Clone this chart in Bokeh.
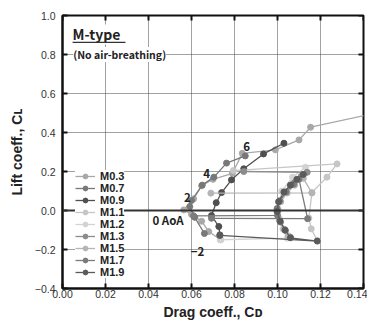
import math
from bokeh.plotting import figure
from bokeh.models import (Range1d, FixedTicker, Legend, LegendItem, Label,
                          Span, BoxAnnotation, CustomJSTickFormatter)
from bokeh.embed import file_html
from bokeh.resources import INLINE

# ---------------- data ----------------
series_names = ["M0.3", "M0.7", "M0.9", "M1.1", "M1.2", "M1.3", "M1.5", "M1.7", "M1.9"]
series_colors = ["#a8a8a8", "#787878", "#4f4f4f", "#c6c6c6", "#d3d3d3", "#8c8c8c",
                 "#b5b5b5", "#7b7b7b", "#5a5a5a"]

cd_m03 = [0.0735, 0.0680, 0.0647, 0.0600, 0.0564, 0.0610, 0.0647, 0.0700, 0.0790, 0.0836, 0.0990, 0.1100, 0.1154, 0.1480]
cl_m03 = [-0.150, -0.108, -0.055, -0.020, 0.003, 0.060, 0.127, 0.160, 0.190, 0.293, 0.311, 0.362, 0.427, 0.505]

cd_m07 = [0.0660, 0.0615, 0.0592, 0.0600, 0.0650, 0.0704, 0.0763, 0.0850]
cl_m07 = [-0.118, -0.035, 0.020, 0.051, 0.130, 0.171, 0.243, 0.280]

cd_m09 = [0.0732, 0.0727, 0.0693, 0.0715, 0.0740, 0.0786, 0.0843, 0.0935, 0.1030]
cl_m09 = [-0.125, -0.082, -0.026, 0.040, 0.092, 0.157, 0.214, 0.290, 0.345]

cd_m11 = [0.0795, 0.1277, 0.1230, 0.1160, 0.1146, 0.1157, 0.1185]
cl_m11 = [0.205, 0.239, 0.171, 0.092, -0.039, -0.094, -0.154]

cd_m12 = [0.0735, 0.1045, 0.1025, 0.1008, 0.1003, 0.1020, 0.1070, 0.1130]
cl_m12 = [-0.150, -0.142, -0.095, -0.040, 0.010, 0.100, 0.171, 0.222]

cd_m13 = [0.1060, 0.1037, 0.1014, 0.1000, 0.1012, 0.1040, 0.1075, 0.1110, 0.1138, 0.0843]
cl_m13 = [-0.137, -0.103, -0.060, -0.005, 0.045, 0.095, 0.140, 0.175, 0.196, 0.200]

cd_m15 = [0.0690, 0.1160, 0.1120, 0.1080, 0.1045, 0.1015, 0.1000, 0.1008, 0.1030, 0.1050]
cl_m15 = [0.089, 0.090, 0.165, 0.130, 0.090, 0.045, 0.000, -0.050, -0.095, -0.130]

cd_m17 = [0.0610, 0.1000, 0.0998, 0.1010, 0.1040, 0.1075, 0.1100, 0.1140, 0.0693]
cl_m17 = [-0.028, -0.025, 0.010, 0.050, 0.095, 0.135, 0.160, -0.042, -0.040]

cd_m19 = [0.0732, 0.1185, 0.1060, 0.1035, 0.1012, 0.0998, 0.1005, 0.1030, 0.1060, 0.1090, 0.1120]
cl_m19 = [-0.128, -0.157, -0.140, -0.100, -0.055, -0.005, 0.045, 0.095, 0.130, 0.160, 0.185]

series_cd = [cd_m03, cd_m07, cd_m09, cd_m11, cd_m12, cd_m13, cd_m15, cd_m17, cd_m19]
series_cl = [cl_m03, cl_m07, cl_m09, cl_m11, cl_m12, cl_m13, cl_m15, cl_m17, cl_m19]

x_ticks = [0.0, 0.02, 0.04, 0.06, 0.08, 0.10, 0.12, 0.14]
y_ticks = [-0.4, -0.2, 0.0, 0.2, 0.4, 0.6, 0.8, 1.0]
x_min, x_max = 0.0, 0.14
y_min, y_max = -0.4, 1.0

aoa_texts = ["6", "4", "2", "0 AoA", "\u22122"]
aoa_cd = [0.0856, 0.0670, 0.0581, 0.0491, 0.0628]
aoa_cl = [0.328, 0.190, 0.067, -0.051, -0.209]

LABEL_FONT = "Noto Sans CJK JP"
TICK_FONT = "Liberation Sans"

# ---------------- figure ----------------
p = figure(frame_width=301, frame_height=273, output_backend="svg", toolbar_location=None,
           x_range=Range1d(x_min, x_max), y_range=Range1d(y_min, y_max),
           min_border_left=62, min_border_right=4, min_border_top=15, min_border_bottom=38)
p.background_fill_color = "white"
p.border_fill_color = "white"
p.outline_line_color = "#111111"
p.outline_line_width = 2

for ax in (p.xaxis[0], p.yaxis[0]):
    ax.axis_line_width = 2
    ax.axis_line_color = "#111111"
    ax.major_tick_in = 5
    ax.major_tick_out = 0
    ax.major_tick_line_width = 2
    ax.major_tick_line_color = "#111111"
    ax.minor_tick_line_color = None
    ax.major_label_text_font = TICK_FONT
    ax.major_label_text_font_size = "10.5px"
    ax.major_label_text_color = "#333333"
    ax.axis_label_text_font = "Liberation Sans"
    ax.axis_label_text_font_style = "bold"
    ax.axis_label_text_font_size = "14px"
    ax.axis_label_text_color = "#222222"

p.xaxis[0].ticker = FixedTicker(ticks=x_ticks)
p.yaxis[0].ticker = FixedTicker(ticks=y_ticks)
p.xaxis[0].formatter = CustomJSTickFormatter(code="return tick.toFixed(2);")
p.yaxis[0].formatter = CustomJSTickFormatter(code="return tick.toFixed(1).replace('-', '\\u2212');")
p.xaxis[0].major_label_standoff = 1
p.yaxis[0].major_label_standoff = 7
p.xaxis[0].axis_label = "Drag coeff., C\u1d05"
p.yaxis[0].axis_label = "Lift coeff., C\u029f"
p.xaxis[0].axis_label_standoff = 3
p.yaxis[0].axis_label_standoff = 7

p.xgrid.ticker = FixedTicker(ticks=x_ticks)
p.ygrid.ticker = FixedTicker(ticks=y_ticks)
for g in (p.xgrid[0], p.ygrid[0]):
    g.grid_line_color = "#444444"
    g.grid_line_dash = "1 1"
    g.grid_line_width = 1

# inward ticks on the top and right frame edges (half-clipped dash markers)
p.scatter(x_ticks, [y_max] * len(x_ticks), marker="dash", angle=math.pi / 2, size=10,
          line_color="#111111", line_width=2)
p.scatter([x_max] * len(y_ticks), y_ticks, marker="dash", size=10,
          line_color="#111111", line_width=2)

# ---------------- series ----------------
items = []
for name, col, xs, ys in zip(series_names, series_colors, series_cd, series_cl):
    r1 = p.line(xs, ys, line_color=col, line_width=1.3)
    r2 = p.scatter(xs, ys, marker="circle", size=6, fill_color=col, line_color=col)
    items.append(LegendItem(label=name, renderers=[r1, r2]))

zero = Span(location=0, dimension="width", line_color="#333333", line_width=2, level="overlay")

legend = Legend(items=items, location=(13, 10), label_text_font="Liberation Sans",
                label_text_font_style="bold", label_text_font_size="11px",
                label_text_color="#222222", label_height=12, glyph_height=12,
                glyph_width=20, label_standoff=5, spacing=0, padding=3,
                border_line_color=None, background_fill_color="white",
                background_fill_alpha=1.0, margin=0)
p.add_layout(legend, "center")
p.add_layout(zero)

for t, x, y in zip(aoa_texts, aoa_cd, aoa_cl):
    p.add_layout(Label(x=x, y=y, text=t, text_font=LABEL_FONT, text_font_style="bold",
                       text_font_size="11.5px", text_color="#222222",
                       text_align="center", text_baseline="middle"))

p.add_layout(Label(x=0.0047, y=0.903, text="M-type", text_font=LABEL_FONT,
                   text_font_style="bold", text_font_size="14px", text_color="#222222",
                   text_align="left", text_baseline="middle",
                   background_fill_color="white"))
p.add_layout(BoxAnnotation(left=0.0047, right=0.0293, bottom=0.859, top=0.865,
                           fill_color="#333333", fill_alpha=1, line_color=None))
p.add_layout(Label(x=0.0050, y=0.800, text="(No air-breathing)", text_font=LABEL_FONT,
                   text_font_style="bold", text_font_size="10.5px", text_color="#222222",
                   text_align="left", text_baseline="middle",
                   background_fill_color="white"))

open("out.html", "w").write(file_html(p, INLINE))
